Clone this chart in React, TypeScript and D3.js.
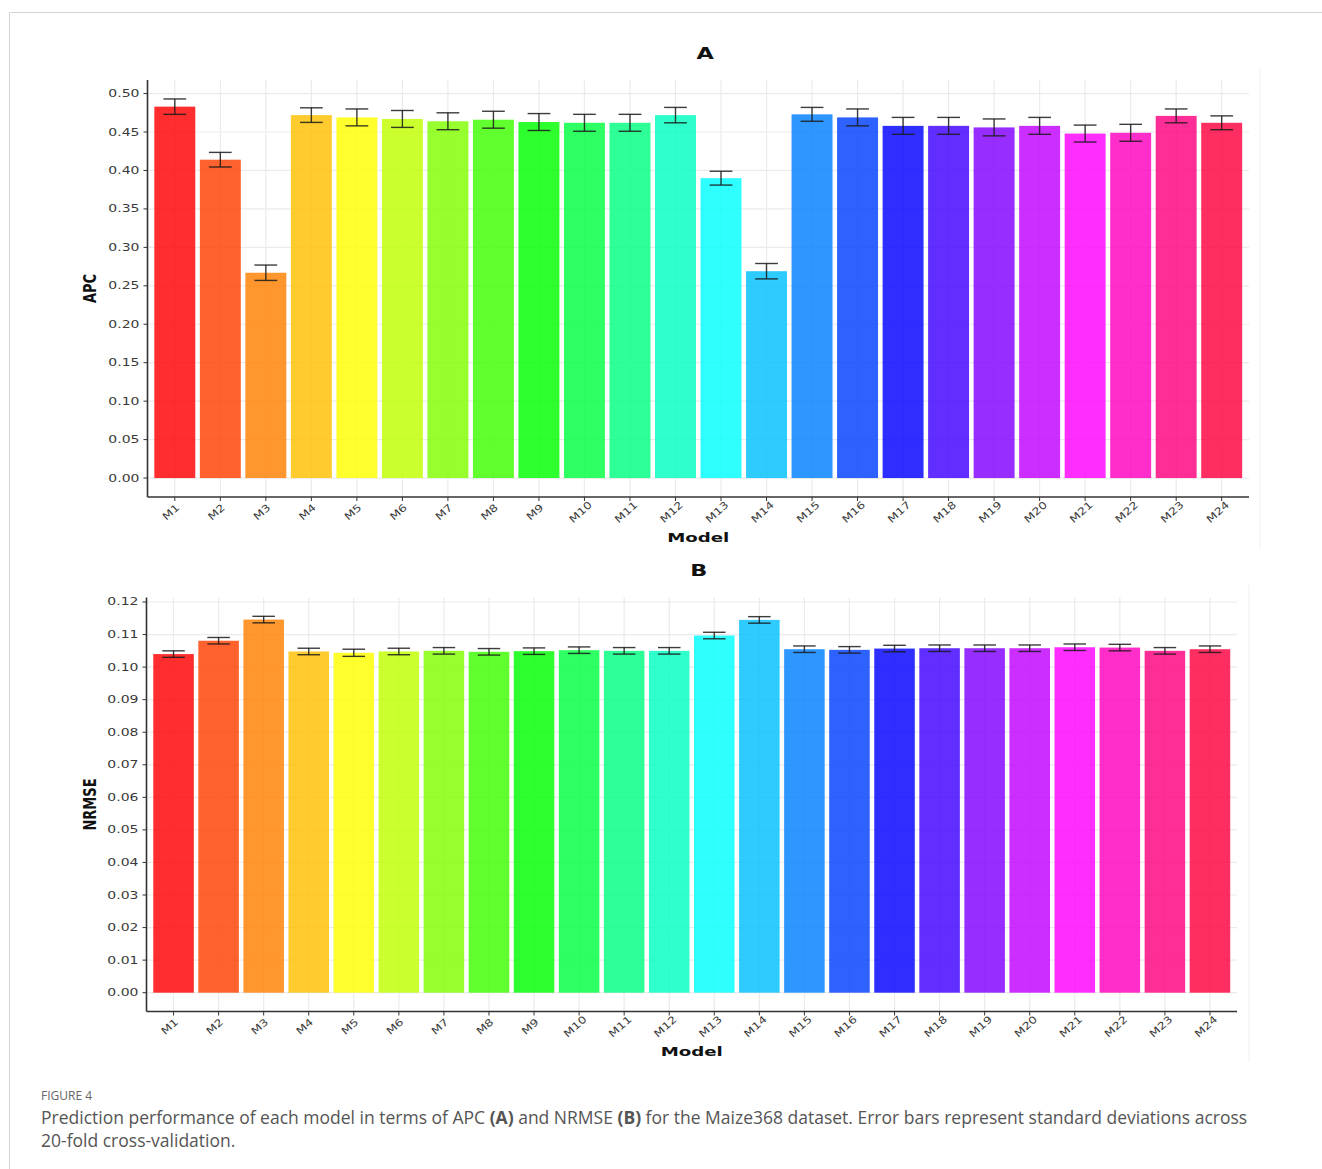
import * as d3 from "d3";

const models = ["M1", "M2", "M3", "M4", "M5", "M6", "M7", "M8", "M9", "M10", "M11", "M12",
  "M13", "M14", "M15", "M16", "M17", "M18", "M19", "M20", "M21", "M22", "M23", "M24"];

const apcMean = [0.483, 0.414, 0.267, 0.472, 0.469, 0.467, 0.464, 0.466, 0.463, 0.462, 0.462, 0.472,
  0.390, 0.269, 0.473, 0.469, 0.458, 0.458, 0.456, 0.458, 0.448, 0.449, 0.471, 0.462];
const apcSd = [0.010, 0.0095, 0.010, 0.0095, 0.011, 0.011, 0.011, 0.011, 0.011, 0.011, 0.011, 0.010,
  0.009, 0.010, 0.009, 0.011, 0.011, 0.011, 0.011, 0.011, 0.011, 0.011, 0.009, 0.009];

const nrmseMean = [0.1040, 0.1081, 0.1146, 0.1048, 0.1044, 0.1048, 0.1050, 0.1047, 0.1049, 0.1052, 0.1050, 0.1050,
  0.1097, 0.1145, 0.1055, 0.1053, 0.1057, 0.1058, 0.1058, 0.1058, 0.1061, 0.1060, 0.1050, 0.1055];
const nrmseSd = [0.0010, 0.0010, 0.0010, 0.0010, 0.0011, 0.0010, 0.0010, 0.0010, 0.0010, 0.0010, 0.0010, 0.0010,
  0.0010, 0.0010, 0.0010, 0.0010, 0.0010, 0.0010, 0.0010, 0.0010, 0.0010, 0.0010, 0.0010, 0.0010];

const apcTicks = [0, 0.05, 0.1, 0.15, 0.2, 0.25, 0.3, 0.35, 0.4, 0.45, 0.5];
const nrmseTicks = [0, 0.01, 0.02, 0.03, 0.04, 0.05, 0.06, 0.07, 0.08, 0.09, 0.1, 0.11, 0.12];

// the source figure is stretched sideways, so the text is too
const SX = 1.4;
const FONT = "'DejaVu Sans', Verdana, sans-serif";

function Panel({ title, yLabel, means, sds, ticks, x0, x1, y0, y1, titleY, edgeX, edgeY0, edgeY1 }) {
  const hi = d3.max(means, (d, i) => d + sds[i]);
  const span = hi - 0;
  const y = d3.scaleLinear().domain([0 - span * 0.05, hi + span * 0.05]).range([y1, y0]);
  const x = d3.scaleBand().domain(models).range([x0, x1]).paddingInner(0.1).paddingOuter(0.15);
  const color = (i) => d3.hsl(i * 15, 1, 0.5).toString();
  const cx = (m) => x(m) + x.bandwidth() / 2;
  const cap = x.step() * 0.25;
  const fmt = d3.format(".2f");

  return (
    <g>
      <line x1={edgeX} x2={edgeX} y1={edgeY0} y2={edgeY1} stroke="#f1f1f1" />
      <text transform={`translate(${(x0 + x1) / 2 + 7},${titleY}) scale(${SX},1)`} textAnchor="middle"
        fontFamily={FONT} fontWeight="bold" fontSize={16} fill="#111" dy="0.35em">{title}</text>

      {ticks.map((t) => (
        <line key={"gy" + t} x1={x0} x2={x1} y1={y(t)} y2={y(t)} stroke="#ebebeb" strokeWidth={1.2} />
      ))}
      {models.map((m) => (
        <line key={"gx" + m} x1={cx(m)} x2={cx(m)} y1={y0} y2={y1} stroke="#ebebeb" strokeWidth={1.2} />
      ))}

      {models.map((m, i) => (
        <rect key={"b" + m} x={x(m)} width={x.bandwidth()} y={y(means[i])} height={y(0) - y(means[i])}
          fill={color(i)} fillOpacity={0.82} />
      ))}

      {models.map((m, i) => {
        const c = cx(m);
        const top = y(means[i] + sds[i]);
        const bot = y(means[i] - sds[i]);
        return (
          <g key={"e" + m} stroke="#1a1a1a" strokeWidth={1.4} strokeOpacity={0.85}>
            <line x1={c} x2={c} y1={top} y2={bot} />
            <line x1={c - cap} x2={c + cap} y1={top} y2={top} />
            <line x1={c - cap} x2={c + cap} y1={bot} y2={bot} />
          </g>
        );
      })}

      <line x1={x0} x2={x0} y1={y0} y2={y1} stroke="#333" strokeWidth={1.6} />
      <line x1={x0} x2={x1} y1={y1} y2={y1} stroke="#333" strokeWidth={1.6} />

      {ticks.map((t) => (
        <g key={"ty" + t}>
          <line x1={x0 - 4} x2={x0} y1={y(t)} y2={y(t)} stroke="#333" />
          <text transform={`translate(${x0 - 8},${y(t)}) scale(${SX},1)`} textAnchor="end" dy="0.35em"
            fontFamily={FONT} fontSize={10} fill="#3a3a3a">{fmt(t)}</text>
        </g>
      ))}

      {models.map((m) => (
        <g key={"tx" + m}>
          <line x1={cx(m)} x2={cx(m)} y1={y1} y2={y1 + 4} stroke="#333" />
          <text transform={`translate(${cx(m) - 4},${y1 + 15}) rotate(-42) scale(1.25,1)`} textAnchor="middle"
            dy="0.35em" fontFamily={FONT} fontSize={10} fill="#3a3a3a">{m}</text>
        </g>
      ))}

      <text transform={`translate(${(x0 + x1) / 2},${y1 + 40}) scale(${SX},1)`} textAnchor="middle" dy="0.35em"
        fontFamily={FONT} fontWeight="bold" fontSize={13} fill="#111">Model</text>
      <text transform={`translate(${90},${(y0 + y1) / 2}) scale(${SX},1) rotate(-90)`} textAnchor="middle" dy="0.35em"
        fontFamily={FONT} fontWeight="bold" fontSize={13} fill="#111">{yLabel}</text>
    </g>
  );
}

export default function App() {
  return (
    <svg width={1322} height={1169} style={{ position: "absolute", left: 0, top: 0, background: "#fff" }}>
      <rect width={1322} height={1169} fill="#fff" />
      <line x1={9.5} x2={1322} y1={12.5} y2={12.5} stroke="#d4d4d4" />
      <line x1={9.5} x2={9.5} y1={12.5} y2={1169} stroke="#d4d4d4" />

      <Panel title="A" yLabel="APC" means={apcMean} sds={apcSd} ticks={apcTicks}
        x0={147.5} x1={1249} y0={80} y1={497} titleY={53} edgeX={1260} edgeY0={68} edgeY1={550} />
      <Panel title="B" yLabel="NRMSE" means={nrmseMean} sds={nrmseSd} ticks={nrmseTicks}
        x0={146.5} x1={1237} y0={597.5} y1={1011.5} titleY={570} edgeX={1249} edgeY0={585} edgeY1={1062} />

      <text x={41} y={1100} fontFamily="'Open Sans', sans-serif" fontSize={12} fill="#666">FIGURE 4</text>
      <text x={41} y={1124} fontFamily="'Open Sans', sans-serif" fontSize={17.5} fill="#555">
        Prediction performance of each model in terms of APC <tspan fontWeight="bold">(A)</tspan> and NRMSE{" "}
        <tspan fontWeight="bold">(B)</tspan> for the Maize368 dataset. Error bars represent standard deviations across
      </text>
      <text x={41} y={1147} fontFamily="'Open Sans', sans-serif" fontSize={17.5} fill="#555">
        20-fold cross-validation.
      </text>
    </svg>
  );
}
